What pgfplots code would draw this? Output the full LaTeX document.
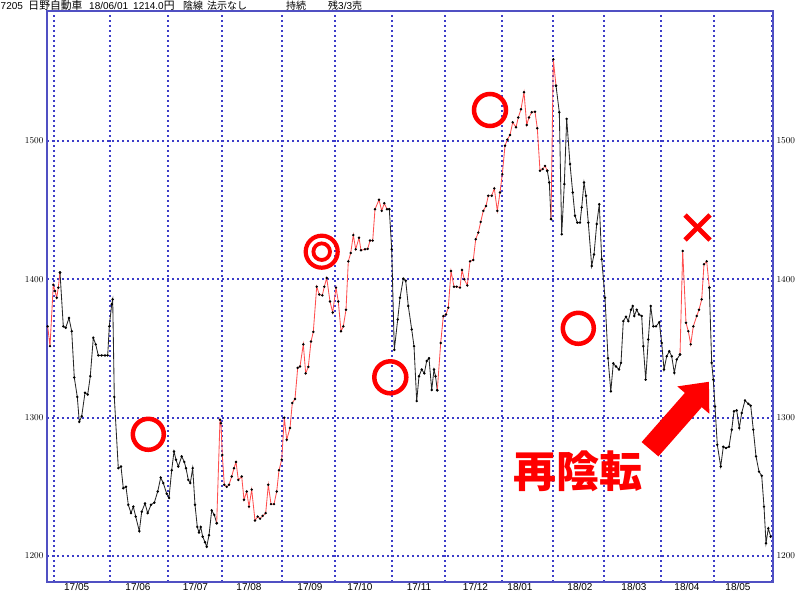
\documentclass[border=0pt]{standalone}
\usepackage{pgfplots}
\pgfplotsset{compat=1.18}
\usepackage{fontspec}
\setmainfont{Liberation Sans}
\newfontfamily\cjk{Noto Sans CJK JP}
\definecolor{gridblue}{RGB}{60,60,200}
\definecolor{frameblue}{RGB}{80,80,195}
\definecolor{linered}{RGB}{255,80,80}
\definecolor{lineblack}{RGB}{40,40,40}
\begin{document}
\begin{tikzpicture}
\pgfplotsset{
  base/.style={at={(0,0)}, anchor=south west, scale only axis,
    width=726pt, height=571pt,
    xmin=47, xmax=773, ymin=1181.205, ymax=1593.976,
    major tick length=0pt,
    ytick={1200,1300,1400,1500},
    yticklabel style={font=\fontsize{9.5}{11}\selectfont, /pgf/number format/.cd, 1000 sep={}},
  },
  red/.style={linered, line width=0.85pt, mark=*, mark size=0.75pt, mark options={black, fill=black, solid}},
  blk/.style={lineblack, line width=0.85pt, mark=*, mark size=0.75pt, mark options={black, fill=black, solid}},
}
\begin{axis}[base,
  axis line style={frameblue, line width=2pt},
  xtick={54,110,168,222,282,335,392,445,502,553,604,661,714,772},
  xticklabels={},
  grid=major,
  major grid style={draw=gridblue, line width=2pt, dash pattern=on 2pt off 3pt},
]
% red segment 1
\addplot[red] coordinates {
(47.7,1366) (50,1351.7) (53.3,1396) (55,1391.5) (56.7,1386.7) (58.3,1394) (60,1405)};
% black segment 1
\addplot[blk] coordinates {
(60,1405) (63.3,1366) (65.7,1365) (69,1372) (71.7,1362.5) (74.3,1329) (77.3,1315) (79.3,1297)
(81.7,1301) (85,1318) (87.7,1316.7) (90.3,1330) (93.3,1357.7) (95.7,1353) (98.3,1345) (101.7,1345)
(105,1345) (107.7,1345) (109.3,1366) (111.7,1382) (112.7,1385.5) (114.3,1315) (118.3,1263.5)
(121,1264.7) (123.3,1249) (126,1250) (128.3,1237) (131,1231) (133.3,1235.7) (135.7,1228.5)
(139.3,1218) (141.7,1232) (145,1238) (147.7,1231) (151,1237) (154.3,1238.6) (157.7,1246.6)
(160.7,1256.7) (163.3,1252.7) (166.7,1245) (169,1242) (171.7,1262) (174,1275.6) (176,1269.6)
(178.3,1264.7) (181.7,1272) (184.3,1268) (186,1263.5) (188.3,1255) (190.3,1252.7) (192.7,1263.5)
(195,1237) (197.3,1221) (199,1217) (200.7,1221) (202.7,1214) (205,1210) (206.7,1206.7) (209,1215)
(211.7,1233) (214.3,1229.7) (216.7,1223.7)};
% red segment 2
\addplot[red] coordinates {
(216.7,1223.7) (220,1298.5) (221,1296) (222.3,1273) (224.3,1251.5) (226.7,1250) (229,1251.5)
(231.7,1257.5) (234,1263.5) (236,1268) (238.3,1255) (241.7,1257.5) (244,1240.6) (246.7,1246.6)
(249,1235.7) (251.7,1248) (255,1225.6) (257.7,1228.5) (260,1227) (262.7,1229) (265.7,1231)
(268.3,1251.5) (271,1237.5) (274,1237.5) (276.7,1246.6) (279,1262) (281.7,1269.6) (284.3,1300)
(286.7,1284) (290,1292.5) (292.3,1310.6) (295,1313.5) (297.7,1336) (300,1337) (303.3,1353)
(305.7,1332) (308.3,1336.7) (311,1355) (313.3,1362) (316.7,1394.7) (319.3,1389) (322.3,1388.4)
(324.3,1394.7) (326.7,1401) (330,1384) (332.7,1376) (336,1394) (338.3,1384) (341,1362.5)
(343.3,1366) (346,1378) (348.3,1413) (350.7,1419) (353.3,1432) (355.7,1421.7) (359,1430)
(361,1421) (365,1421.7) (367.7,1422) (370,1428) (372.7,1428) (375,1450.7) (379,1457.5)
(381.7,1449.5) (384.3,1455) (387,1450.7) (389.3,1450.7)};
% black segment 2
\addplot[blk] coordinates {
(389.3,1450.7) (391.7,1421.7) (394.3,1349) (397.7,1371) (400,1386.7) (403.3,1400.5) (405.7,1399)
(408.3,1380.7) (411.7,1363.8) (414,1351.7) (416.7,1312) (419,1330) (421.7,1334.8) (424.3,1332)
(426.7,1341) (429,1343) (431.7,1320) (434,1334.8) (435.5,1330) (437.3,1319.8)};
% red segment 3
\addplot[red] coordinates {
(437.3,1319.8) (440.7,1354) (443.3,1373.4) (446,1374.6) (448.3,1379.5) (451,1406) (454,1394.7)
(456.7,1394.7) (460,1394) (462,1406.7) (464.3,1400) (467.3,1395.6) (470,1413) (473.3,1414)
(475.7,1429) (478.3,1433.8) (480.7,1441.5) (483.3,1449.5) (486,1453) (488.3,1460.4) (491.7,1460.4)
(494.3,1465.7) (497.3,1449.5) (500,1462.8) (502.3,1476) (505,1496.6) (507.3,1501) (510,1504.3)
(512.7,1513.5) (516,1509.9) (518.3,1517) (521,1523) (524,1535.3) (526.7,1511.6) (529,1517)
(531.7,1520.8) (535,1521.2) (537.3,1509.2) (540,1478.5) (542.7,1479.7) (545,1482) (547.3,1478.5)};
\addplot[blk] coordinates {(547.3,1478.5) (549.3,1470) (551,1443.5)};
\addplot[red] coordinates {(551,1443.5) (553.3,1559) (556,1540)};
% black segment 4
\addplot[blk] coordinates {
(556,1540) (559.3,1520.8) (561.7,1432.6) (564.3,1468.8) (566.7,1516) (570,1483.3) (572.7,1462.8)
(575,1446) (577.3,1441) (580,1441) (581.7,1452) (584,1470) (586,1460.4) (588.3,1441) (591.7,1409.6)
(594,1418) (596.7,1440) (599.3,1454.3) (601.7,1414.5) (605,1386.7) (608,1343) (610.8,1319)
(613.3,1339.3) (616,1337) (619,1334.8) (621,1339.6) (623.3,1369.8) (626,1373) (628.3,1369.8)
(631,1378) (632.7,1380.7) (634.3,1373.5) (636.7,1378) (639,1374.6) (641.7,1373.5) (643.3,1351.7)
(645.7,1327.5) (648.3,1356.5) (650.7,1380.7) (653.3,1366) (656,1366) (659.3,1369) (661.7,1354)
(664,1334.8) (666.7,1344.4) (669.3,1348) (671.7,1344.4) (674.3,1332.4) (676.7,1342) (680,1345.6)};
% red segment 5
\addplot[red] coordinates {
(680,1345.6) (682.7,1420.5) (686,1368.6) (688.3,1362.5) (690.7,1353) (693.3,1366) (696.7,1373.5)
(699,1378) (701.7,1385.5) (704,1410.9) (706.7,1413) (709.3,1394)};
% black segment 5
\addplot[blk] coordinates {
(709.3,1394) (711.7,1339.6) (713.3,1327.5) (715,1308) (717.3,1280.4) (720.7,1264.7) (723.3,1279)
(726,1278) (729,1279) (731.7,1291.3) (734,1304.6) (736.7,1305.3) (739.3,1292.5) (741.7,1303.4)
(745,1312.5) (748.3,1310) (750.7,1308.7) (753.3,1291.3) (756,1272) (759,1261) (761.7,1258)
(764,1235.7) (766,1209.2) (768.3,1220) (770.7,1214)};
\end{axis}
\begin{axis}[base,
  axis line style={draw=none}, tick style={draw=none},
  yticklabel pos=right,
  xtick={76.7,138,195.5,249,310,360,419,475.5,520,580,634,687,738},
  xticklabels={17/05,17/06,17/07,17/08,17/09,17/10,17/11,17/12,18/01,18/02,18/03,18/04,18/05},
  xticklabel style={font=\fontsize{10}{11}\selectfont, inner sep=0pt, yshift=-1.5pt},
]
\end{axis}
% annotations (page pixel coordinates)
\begin{scope}[shift={(-47pt,582pt)}, x=1pt, y=-1pt]
  \draw[red, line width=4.5pt] (148.3,434.3) circle[radius=15.5pt];
  \draw[red, line width=4.5pt] (390.3,377.3) circle[radius=16pt];
  \draw[red, line width=4.5pt] (490,110) circle[radius=16pt];
  \draw[red, line width=4.5pt] (578.3,328.3) circle[radius=15.5pt];
  \draw[red, line width=4.2pt] (321.7,251.7) circle[radius=16pt];
  \draw[red, line width=3.8pt] (321.7,251.7) circle[radius=8.3pt];
  \draw[red, line width=4.8pt] (685,215) -- (710,240);
  \draw[red, line width=4.8pt] (685,240) -- (710,215);
  \fill[red] (658.4,456.4) -- (701.7,407.2) -- (709.3,413.7) -- (708.9,381.8)
     -- (677.3,386.4) -- (684.9,392.9) -- (641.6,442.1) -- cycle;
  \node[red, inner sep=0pt] at (578,471.5) {\cjk\bfseries\fontsize{43}{43}\selectfont 再陰転};
  \begin{scope}[every node/.style={anchor=base west, inner sep=0pt, font=\fontsize{10}{11}\selectfont}]
    \node at (0.5,9.8) {7205};
    \node at (28.3,9.8) {\cjk\fontsize{10.8}{11}\selectfont 日野自動車};
    \node at (89,9.8) {18/06/01};
    \node at (133,9.8) {1214.0\cjk\fontsize{10.8}{11}\selectfont 円};
    \node at (183,9.8) {\cjk 陰線};
    \node at (207,9.8) {\cjk 法示なし};
    \node at (286,9.8) {\cjk 持続};
    \node at (328,9.8) {\cjk 残\rmfamily 3/3\cjk 売};
  \end{scope}
\end{scope}
\pgfresetboundingbox
\path[use as bounding box] (-47pt,-12pt) rectangle (753pt,582pt);
\end{tikzpicture}
\end{document}
